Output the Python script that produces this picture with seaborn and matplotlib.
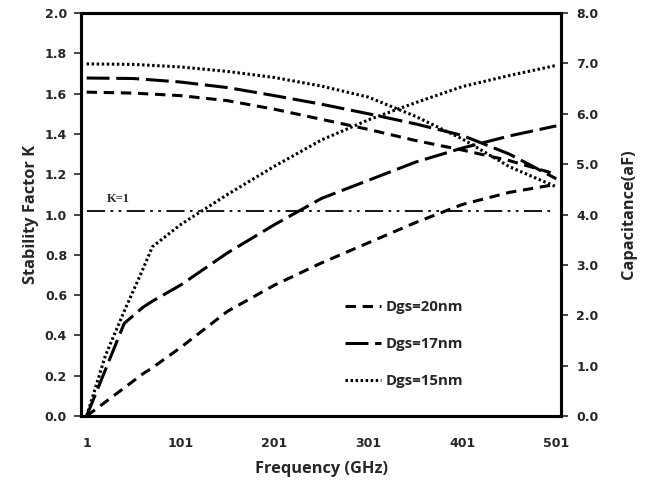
import matplotlib
matplotlib.use("Agg")
import matplotlib.pyplot as plt
import seaborn as sns

# Stability factor K (left axis)
freq_k = [1, 21, 41, 61, 71, 101, 151, 201, 251, 301, 351, 401, 451, 501]
k_20 = [0, 0.07, 0.14, 0.21, 0.24, 0.34, 0.52, 0.65, 0.76, 0.86, 0.96, 1.05, 1.11, 1.15]
k_17 = [0, 0.23, 0.46, 0.54, 0.57, 0.65, 0.81, 0.95, 1.08, 1.17, 1.26, 1.33, 1.39, 1.44]
k_15 = [0, 0.30, 0.52, 0.73, 0.84, 0.95, 1.10, 1.24, 1.37, 1.47, 1.555, 1.635, 1.69, 1.74]

# Capacitance in aF (right axis)
freq_c = [1, 51, 101, 151, 201, 251, 301, 351, 401, 451, 501]
c_20 = [6.43, 6.41, 6.36, 6.26, 6.09, 5.89, 5.69, 5.47, 5.28, 5.07, 4.80]
c_17 = [6.71, 6.70, 6.63, 6.52, 6.36, 6.19, 6.00, 5.80, 5.57, 5.20, 4.71]
c_15 = [6.99, 6.98, 6.93, 6.84, 6.72, 6.55, 6.33, 5.95, 5.50, 4.95, 4.55]

k_ref = 1.02
xticks = [1, 101, 201, 301, 401, 501]
labels = ["Dgs=20nm", "Dgs=17nm", "Dgs=15nm"]

sns.set_style("white")
plt.rcParams["font.family"] = ["DejaVu Sans"]

fig = plt.figure(figsize=(6.5, 4.93), dpi=100)
ax = fig.add_axes([0.1246, 0.156, 0.7385, 0.8176])
ax2 = ax.twinx()

lw = 2.2
styles = [(0, (3.4, 2.2)), (0, (7.5, 2.2)), (0, (0.8, 0.85))]

for y, ls, lab in zip([k_20, k_17, k_15], styles, labels):
    sns.lineplot(x=freq_k, y=y, ax=ax, color="black", linewidth=lw,
                 linestyle=ls, label=lab, legend=False)

for y, ls in zip([c_20, c_17, c_15], styles):
    sns.lineplot(x=freq_c, y=y, ax=ax2, color="black", linewidth=lw,
                 linestyle=ls, legend=False)

# K=1 reference line
ax.plot([1, 497], [k_ref, k_ref], color="black", linewidth=1.3,
        linestyle=(0, (10, 3, 1.5, 3, 1.5, 3)))
ax.text(23, k_ref + 0.025, "K=1", family="Liberation Serif", fontweight="bold",
        fontsize=9, ha="left", va="bottom")

ax.set_xlim(-5, 506)
ax.set_ylim(0, 2.0)
ax2.set_ylim(0, 8.0)
ax.set_xticks(xticks)
ax.set_xticklabels([str(v) for v in xticks])
ax.set_yticks([i * 0.2 for i in range(11)])
ax.set_yticklabels([f"{i * 0.2:.1f}" for i in range(11)])
ax2.set_yticks(range(9))
ax2.set_yticklabels([f"{i:.1f}" for i in range(9)])

for a in (ax, ax2):
    for s in a.spines.values():
        s.set_linewidth(2.2)
        s.set_color("black")
    a.tick_params(labelsize=9)
    for t in a.get_yticklabels() + a.get_xticklabels():
        t.set_fontweight("bold")

ax.tick_params(axis="y", direction="out", length=5, width=1.2, pad=5, left=True)
ax.tick_params(axis="x", length=0, pad=15)
ax2.tick_params(axis="y", direction="out", length=5, width=1.2, pad=6, right=True)

lab_font = dict(family="Open Sans", fontweight="bold", fontsize=11.8)
ax.set_xlabel("Frequency (GHz)", labelpad=8, **lab_font)
ax.set_ylabel("Stability Factor K", labelpad=4, **lab_font)
ax2.set_ylabel("Capacitance(aF)", labelpad=16, **lab_font)

handles = ax.get_lines()[:3]
ax2.legend(handles, labels, loc="upper left", bbox_to_anchor=(0.534, 0.307),
           frameon=False, handlelength=2.4, handletextpad=0.35,
           labelspacing=1.55, borderpad=0,
           prop=dict(family="Open Sans", weight="bold", size=10.8))

fig.savefig("out.png", dpi=100)
